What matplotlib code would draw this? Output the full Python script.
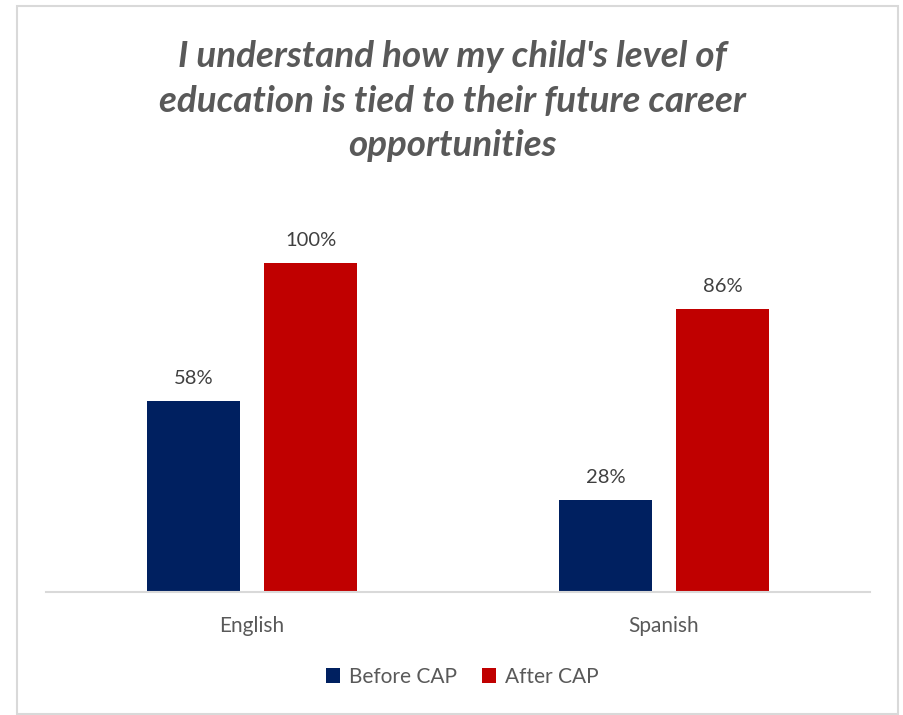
import matplotlib

matplotlib.use("Agg")
import matplotlib.pyplot as plt
import numpy as np
from matplotlib.patches import Rectangle

categories = ["English", "Spanish"]
before_cap = [58, 28]
after_cap = [100, 86]
series_names = ["Before CAP", "After CAP"]
title = "I understand how my child's level of\neducation is tied to their future career\nopportunities"

NAVY = "#002060"
RED = "#C00000"
GREY_TEXT = "#595959"

plt.rcParams["font.family"] = ["Lato", "DejaVu Sans"]

W, H = 904, 715
fig = plt.figure(figsize=(W / 100, H / 100), dpi=100)

# outer chart frame
fig.patches.append(Rectangle((17 / W, 1 / H), 881 / W, 708 / H, transform=fig.transFigure,
                             fill=False, edgecolor="#D9D9D9", lw=1.5))

ax = fig.add_axes([46 / W, (H - 592) / H, 824 / W, 412 / H])
x = np.arange(len(categories))
bw = 0.225
off = 0.142
b1 = ax.bar(x - off, before_cap, bw, color=NAVY, label=series_names[0])
b2 = ax.bar(x + off, after_cap, bw, color=RED, label=series_names[1])

for bars, vals in ((b1, before_cap), (b2, after_cap)):
    for rect, v in zip(bars, vals):
        ax.annotate(f"{v}%", (rect.get_x() + rect.get_width() / 2, v),
                    xytext=(0, 10), textcoords="offset points",
                    ha="center", va="bottom", fontsize=14.5, color="#404040")

ax.set_xlim(-0.5, 1.5)
ax.set_ylim(0, 125.2)
ax.set_yticks([])
ax.set_xticks(x)
ax.set_xticklabels(categories, fontsize=15, color=GREY_TEXT)
ax.tick_params(axis="x", length=0, pad=17)
for s in ("top", "right", "left"):
    ax.spines[s].set_visible(False)
ax.spines["bottom"].set_color("#D9D9D9")
ax.spines["bottom"].set_linewidth(1.5)

fig.text(0.5, 1 - 101 / H, title, ha="center", va="center", fontsize=26.5,
         fontweight="bold", fontstyle="italic", color=GREY_TEXT, linespacing=1.42)

fig.legend(handles=[b1, b2], loc="center", bbox_to_anchor=(462 / W, 1 - 677 / H),
           ncol=2, frameon=False, fontsize=15, handlelength=0.7, handleheight=0.7,
           handletextpad=0.4, columnspacing=1.2, labelcolor=GREY_TEXT)

fig.savefig("out.png", dpi=100)
